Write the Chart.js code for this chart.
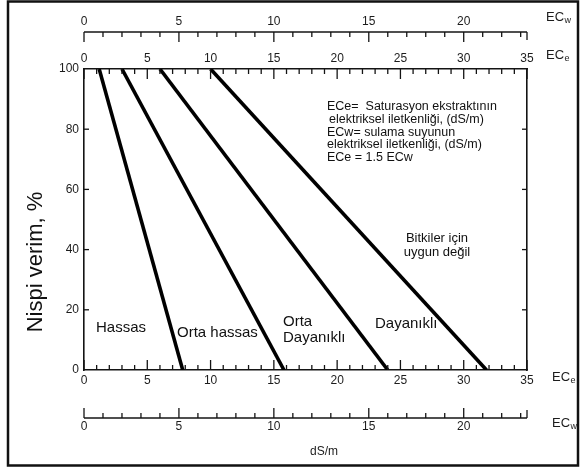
<!DOCTYPE html>
<html>
<head>
<meta charset="utf-8">
<script src="https://cdn.jsdelivr.net/npm/chart.js@4/dist/chart.umd.min.js"></script>
<style>
  html, body { margin: 0; padding: 0; background: #ffffff; }
  canvas { display: block; }
</style>
</head>
<body>
<canvas id="chart" width="582" height="471"></canvas>
<script>
// Salt tolerance groups: relative yield falls linearly from 100 % to 0 %
const groups = ['Hassas', 'Orta hassas', 'Orta Dayanıklı', 'Dayanıklı'];
const eceAtFullYield = [1.2, 3.0, 6.0, 10.0];   // ECe (dS/m) where yield is still 100 %
const eceAtZeroYield = [7.8, 15.8, 24.0, 31.8]; // ECe (dS/m) where yield reaches 0 %
const yieldEnds = [100, 0];

// Axis ticks
const yieldTicks = [0, 20, 40, 60, 80, 100];
const eceTicks = [0, 5, 10, 15, 20, 25, 30, 35];
const ecwTicks = [0, 5, 10, 15, 20];
const eceMax = 35;
const ecePerEcw = 1.5; // ECe = 1.5 ECw

const FONT = "'Liberation Sans', Arial, Helvetica, sans-serif";
const INK = '#141414';
const TICK_INK = '#1c1c1c';

const datasets = groups.map((name, i) => ({
  label: name,
  data: [
    { x: eceAtFullYield[i], y: yieldEnds[0] },
    { x: eceAtZeroYield[i], y: yieldEnds[1] }
  ],
  borderColor: '#000000',
  borderWidth: 3.6,
  borderCapStyle: 'butt',
  pointRadius: 0,
  tension: 0,
  xAxisID: 'x',
  yAxisID: 'y'
}));

const tickFont = { family: FONT, size: 12 };
const noGrid = { display: false, drawTicks: false };

function fixedTicks(values) {
  return scale => { scale.ticks = values.map(v => ({ value: v })); };
}

// Ruler marks, frame and free text drawn on top of the chart
const extras = {
  id: 'extras',
  afterDraw(chart) {
    const ctx = chart.ctx;
    const s = chart.scales;
    const line = (x1, y1, x2, y2) => {
      ctx.beginPath(); ctx.moveTo(x1, y1); ctx.lineTo(x2, y2); ctx.stroke();
    };
    ctx.save();
    ctx.strokeStyle = INK;
    ctx.lineWidth = 1.3;

    // ECe bottom: ticks rise from the lower border
    for (let v = 0; v <= eceMax; v++) {
      const p = s.x.getPixelForValue(v);
      line(p, s.x.top, p, s.x.top - (v % 5 ? 5 : 10));
    }
    // ECe top: ticks hang from the upper border
    for (let v = 0; v <= eceMax; v++) {
      const p = s.xTop.getPixelForValue(v);
      line(p, s.xTop.bottom, p, s.xTop.bottom + (v % 5 ? 5 : 10));
    }
    // yield ticks on both vertical borders
    yieldTicks.filter(v => v > 0 && v < 100).forEach(v => {
      const py = s.y.getPixelForValue(v);
      line(s.y.right, py, s.y.right + 5, py);
      const pr = s.yRight.getPixelForValue(v);
      line(s.yRight.left, pr, s.yRight.left - 5, pr);
    });

    // ECw rulers (top and bottom)
    const ruler = (scale, baseY, dir) => {
      const x0 = scale.getPixelForValue(0);
      const x1 = scale.getPixelForValue(scale.max);
      ctx.lineWidth = 1.5;
      line(x0, baseY, x1, baseY);
      ctx.lineWidth = 1.3;
      for (let v = 0; v <= Math.floor(scale.max); v++) {
        const p = scale.getPixelForValue(v);
        line(p, baseY, p, baseY + dir * (v % 5 ? 5 : 10));
      }
      line(x1, baseY, x1, baseY + dir * 8);
    };
    ruler(s.xwTop, 32, 1);
    ruler(s.xw, 418, -1);

    // unit labels with subscripts
    ctx.fillStyle = TICK_INK;
    ctx.textBaseline = 'middle';
    ctx.textAlign = 'left';
    const ecLabel = (x, y, sub) => {
      ctx.font = '13px ' + FONT;
      ctx.fillText('EC', x, y);
      const w = ctx.measureText('EC').width;
      ctx.font = '9px ' + FONT;
      ctx.fillText(sub, x + w + 0.5, y + 4);
    };
    ecLabel(546, 17, 'w');
    ecLabel(546, 55, 'e');
    ecLabel(552, 377, 'e');
    ecLabel(552, 423, 'w');

    ctx.font = '12px ' + FONT;
    ctx.textAlign = 'center';
    ctx.fillText('dS/m', 324, 452);

    // axis title
    ctx.save();
    ctx.translate(36, 262);
    ctx.rotate(-Math.PI / 2);
    ctx.font = '22px ' + FONT;
    ctx.fillStyle = '#111';
    ctx.textAlign = 'center';
    ctx.fillText('Nispi verim, %', 0, 0);
    ctx.restore();

    // group names
    ctx.fillStyle = '#111';
    ctx.textAlign = 'left';
    ctx.font = '15px ' + FONT;
    ctx.fillText('Hassas', 96, 328);
    ctx.fillText('Orta hassas', 177, 333);
    ctx.fillText('Orta', 283, 322);
    ctx.fillText('Dayanıklı', 283, 338);
    ctx.fillText('Dayanıklı', 375, 324);

    ctx.font = '13px ' + FONT;
    ctx.textAlign = 'center';
    ctx.fillText('Bitkiler için', 437, 238);
    ctx.fillText('uygun değil', 437, 252);

    // definitions
    ctx.font = '12.5px ' + FONT;
    ctx.textAlign = 'left';
    const notes = [
      ['ECe=  Saturasyon ekstraktının', 327],
      ['elektriksel iletkenliği, (dS/m)', 329],
      ['ECw= sulama suyunun', 327],
      ['elektriksel iletkenliği, (dS/m)', 327],
      ['ECe = 1.5 ECw', 327]
    ];
    notes.forEach((n, i) => ctx.fillText(n[0], n[1], 107 + i * 12.6));

    // frame
    ctx.strokeStyle = '#111';
    ctx.lineWidth = 2.5;
    ctx.strokeRect(8, 1.5, 570, 464);
    ctx.restore();
  }
};

new Chart(document.getElementById('chart'), {
  type: 'line',
  data: { datasets },
  options: {
    responsive: false,
    animation: false,
    devicePixelRatio: 1,
    layout: { padding: 0 },
    plugins: { legend: { display: false }, tooltip: { enabled: false } },
    scales: {
      x: {
        type: 'linear', position: 'bottom', min: 0, max: eceMax, weight: 0,
        afterBuildTicks: fixedTicks(eceTicks),
        afterFit: sc => { sc.height = 40; },
        grid: noGrid,
        border: { display: true, color: INK, width: 1.6 },
        ticks: { font: tickFont, color: TICK_INK, padding: 3, maxRotation: 0, autoSkip: false }
      },
      xw: {
        type: 'linear', position: 'bottom', min: 0, max: eceMax / ecePerEcw, weight: 1,
        afterBuildTicks: fixedTicks(ecwTicks),
        afterFit: sc => { sc.height = 61; },
        grid: noGrid,
        border: { display: false },
        ticks: { font: tickFont, color: TICK_INK, padding: 9.5, maxRotation: 0, autoSkip: false }
      },
      xTop: {
        type: 'linear', position: 'top', min: 0, max: eceMax, weight: 0,
        afterBuildTicks: fixedTicks(eceTicks),
        afterFit: sc => { sc.height = 26; },
        grid: noGrid,
        border: { display: true, color: INK, width: 1.6 },
        ticks: { font: tickFont, color: TICK_INK, padding: 3.5, maxRotation: 0, autoSkip: false }
      },
      xwTop: {
        type: 'linear', position: 'top', min: 0, max: eceMax / ecePerEcw, weight: 1,
        afterBuildTicks: fixedTicks(ecwTicks),
        afterFit: sc => { sc.height = 43; },
        grid: noGrid,
        border: { display: false },
        ticks: { font: tickFont, color: TICK_INK, padding: 14, maxRotation: 0, autoSkip: false }
      },
      y: {
        type: 'linear', position: 'left', min: 0, max: 100,
        afterBuildTicks: fixedTicks(yieldTicks),
        afterFit: sc => { sc.width = 84; },
        grid: noGrid,
        border: { display: true, color: INK, width: 1.6 },
        ticks: { font: tickFont, color: TICK_INK, padding: 5 }
      },
      yRight: {
        type: 'linear', position: 'right', min: 0, max: 100,
        afterFit: sc => { sc.width = 55; },
        grid: noGrid,
        border: { display: true, color: INK, width: 1.6 },
        ticks: { display: false }
      }
    }
  },
  plugins: [extras]
});
</script>
</body>
</html>
